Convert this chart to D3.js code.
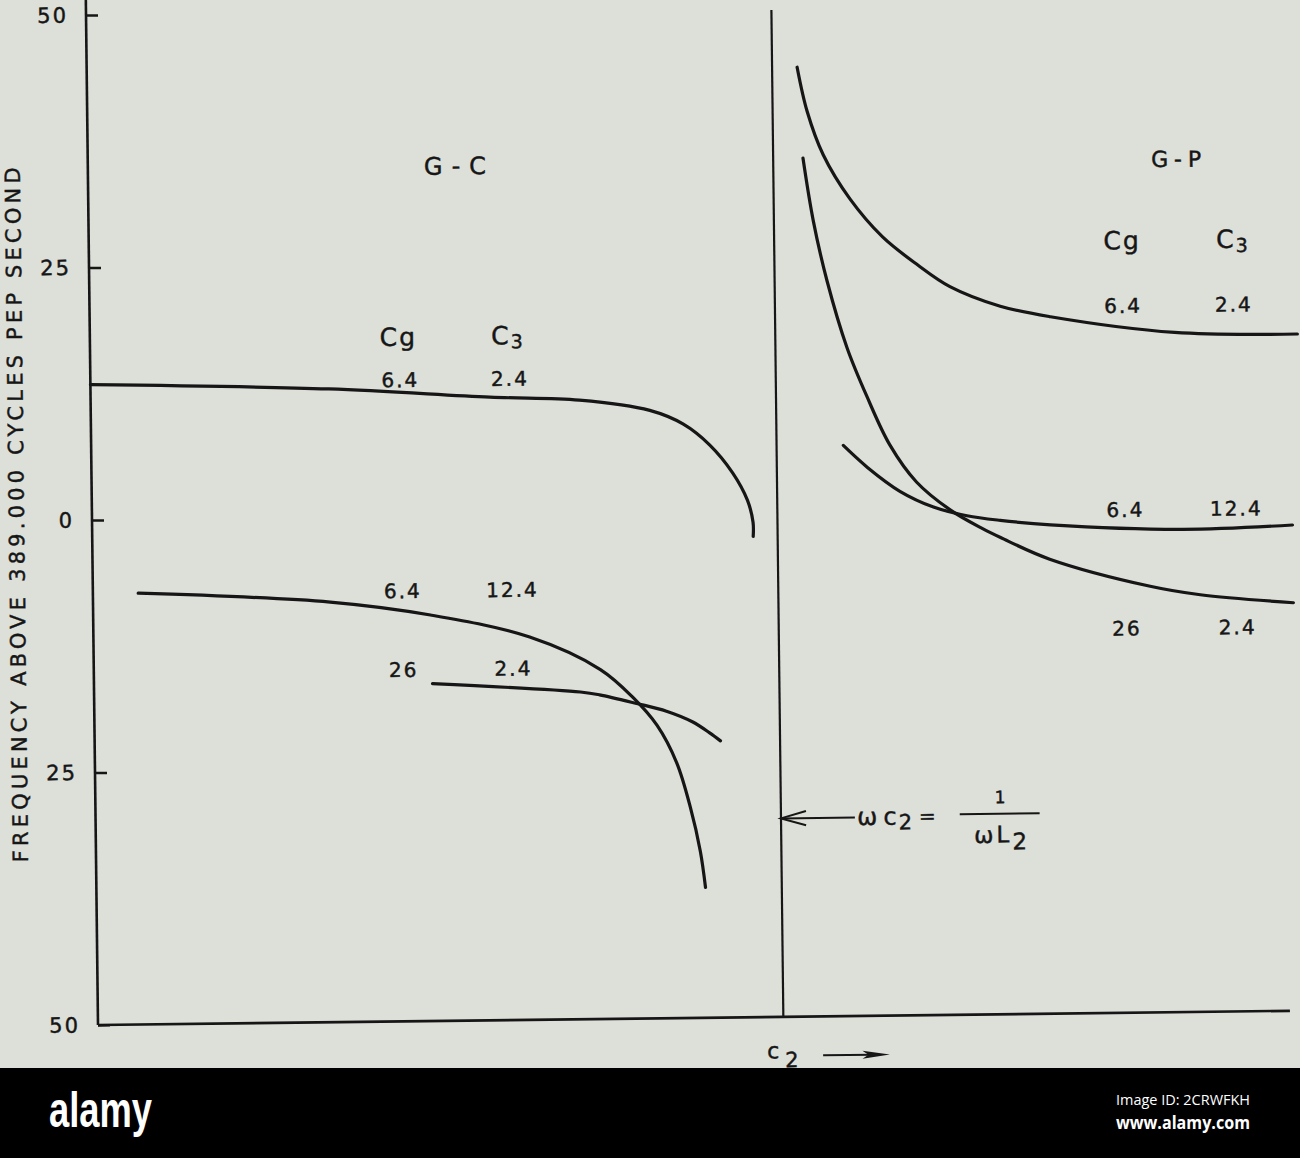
<!DOCTYPE html>
<html><head><meta charset="utf-8">
<script src="https://cdn.jsdelivr.net/npm/d3@7"></script>
<style>html,body{margin:0;padding:0;background:#dddfd9;} svg{display:block}</style>
</head><body>
<svg id="chart" width="1300" height="1158"></svg>
<script>
// ---------- data ----------
const freqTicks = [50, 25, 0, -25, -50];
const yTitle = "FREQUENCY ABOVE 389.000 CYCLES PEP SECOND";
const resonanceC2 = 57.5;            // ωC2 = 1/(ωL2)

// G-C curves: [C2 (arbitrary units), frequency]
const gcCg64C324  = [[0,13.4],[20,12.7],[33.5,11.7],[41,11.3],[46.9,10.2],[49.7,8.8],[51.9,6.7],[53.8,3.9],[55.0,1.2],[55.45,-1.0],[55.45,-2.4]];
const gcCg64C3124 = [[3.8,-7.3],[19.9,-8.4],[28.3,-9.8],[36.6,-12.1],[42.5,-15.4],[45.2,-18.2],[47.2,-21.0],[48.8,-24.7],[49.9,-29.1],[50.7,-33.5],[51.1,-37.1]];
const gcCg26C324  = [[28.4,-16.6],[40.8,-17.6],[42.4,-17.9],[45.5,-18.8],[48.0,-19.6],[50.2,-20.7],[51.6,-21.8],[52.5,-22.6]];
// G-P curves
const gpCg64C324  = [[59.6,44.0],[60.4,39.6],[61.7,35.3],[63.9,30.9],[66.6,27.1],[69.5,24.3],[72.2,22.1],[76.4,20.1],[80.6,19.0],[91.0,17.3],[101.3,17.0]];
const gpCg26C324  = [[60.0,35.0],[60.8,28.8],[61.9,22.8],[63.5,16.2],[65.1,11.4],[67.0,6.5],[69.2,2.8],[72.0,0.0],[74.7,-1.9],[76.2,-2.8],[80.3,-5.0],[88.7,-7.8],[92.9,-8.7],[100.7,-9.6]];
const gpCg64C3124 = [[63.1,6.5],[65.1,4.3],[67.8,1.9],[70.6,0.3],[73.4,-0.6],[76.2,-1.1],[80.4,-1.6],[91.5,-2.2],[100.7,-1.9]];

const gcCgValues = ["6.4", "6.4", "26"];
const gcC3Values = ["2.4", "12.4", "2.4"];
const gpCgValues = ["6.4", "6.4", "26"];
const gpC3Values = ["2.4", "12.4", "2.4"];

// ---------- layout ----------
const svg = d3.select("#chart");
const x = d3.scaleLinear().domain([0, 100]).range([98, 1290]);
const y = d3.scaleLinear().domain([-50, 50]).range([1025, 15]);
const INK = "#161616";
const FONT = "'DejaVu Sans', sans-serif";
const TS = 0.45; // text stroke to mimic heavier print

svg.append("rect").attr("width",1300).attr("height",1158).attr("fill","#dddfd9");

const g = svg.append("g").attr("transform", "rotate(-0.68,98,1025)");

// axes lines
g.append("line").attr("x1", x(0)).attr("x2", x(0)).attr("y1", y(-50)).attr("y2", y(51.5))
  .attr("stroke", INK).attr("stroke-width", 2.6);
g.append("line").attr("x1", x(0)).attr("x2", x(100)).attr("y1", y(-50)).attr("y2", y(-50))
  .attr("stroke", INK).attr("stroke-width", 2.6);
g.append("line").attr("x1", x(resonanceC2)).attr("x2", x(resonanceC2)).attr("y1", y(-50)).attr("y2", y(49.7))
  .attr("stroke", INK).attr("stroke-width", 2.2);

const yAxis = d3.axisLeft(y).tickValues(freqTicks).tickFormat(d => Math.abs(d))
  .tickSize(-12).tickSizeOuter(0).tickPadding(18);
const ya = g.append("g").attr("transform", `translate(${x(0)},0)`).call(yAxis);
ya.select(".domain").remove();
ya.selectAll(".tick line").attr("stroke", INK).attr("stroke-width", 2.5);
ya.selectAll(".tick text").attr("font-family", FONT).attr("font-size", 21)
  .attr("fill", INK).attr("stroke", INK).attr("stroke-width", TS).attr("letter-spacing", 2);

// y title
g.append("text")
  .attr("transform", `translate(${x(-5.7)},${y(0.6)}) rotate(-90)`)
  .attr("text-anchor", "middle").attr("font-family", FONT).attr("font-size", 21)
  .attr("fill", INK).attr("stroke", INK).attr("stroke-width", TS)
  .attr("textLength", 695).attr("lengthAdjust", "spacing")
  .text(yTitle);

// curves
const line = d3.line().x(d => x(d[0])).y(d => y(d[1])).curve(d3.curveCatmullRom.alpha(0.5));
[gcCg64C324, gcCg64C3124, gcCg26C324, gpCg64C324, gpCg26C324, gpCg64C3124].forEach(s => {
  g.append("path").datum(s).attr("d", line).attr("fill", "none")
    .attr("stroke", INK).attr("stroke-width", 3.2).attr("stroke-linecap", "round");
});

// labels
function txt(cx, fy, str, size, anchor, spacing) {
  return g.append("text").attr("x", x(cx)).attr("y", y(fy))
    .attr("text-anchor", anchor || "middle").attr("font-family", FONT)
    .attr("font-size", size).attr("fill", INK).attr("stroke", INK).attr("stroke-width", TS)
    .attr("letter-spacing", spacing || 0).text(str);
}
function header(cx, fy) {
  const t = g.append("text").attr("x", x(cx)).attr("y", y(fy)).attr("text-anchor", "middle")
    .attr("font-family", FONT).attr("font-size", 25).attr("fill", INK)
    .attr("stroke", INK).attr("stroke-width", TS);
  t.append("tspan").text("C");
  t.append("tspan").attr("dx", 2).text("g");
}
function header3(cx, fy) {
  const t = g.append("text").attr("x", x(cx)).attr("y", y(fy)).attr("text-anchor", "middle")
    .attr("font-family", FONT).attr("font-size", 25).attr("fill", INK)
    .attr("stroke", INK).attr("stroke-width", TS);
  t.append("tspan").text("C");
  t.append("tspan").attr("dx", 2).attr("dy", 4).attr("font-size", 19).text("3");
}

// G-C block
txt(30.8, 33.8, "G-C", 24, "middle").attr("textLength", 62).attr("lengthAdjust", "spacing");
header(25.8, 16.9); header3(35.0, 16.9);
const gcRows = [12.8, -8.1, -15.9];
gcRows.forEach((fy, i) => {
  txt(26.0, fy, gcCgValues[i], 20, "middle", 2);
  txt(35.2, fy, gcC3Values[i], 20, "middle", 2);
});
// G-P block
txt(91.3, 33.7, "G-P", 22, "middle").attr("textLength", 50).attr("lengthAdjust", "spacing");
header(86.6, 25.6); header3(95.9, 25.6);
const gpRows = [19.3, -0.9, -12.65];
gpRows.forEach((fy, i) => {
  txt(86.7, fy, gpCgValues[i], 20, "middle", 2);
  txt(96.0, fy, gpC3Values[i], 20, "middle", 2);
});

// resonance annotation
const aF = -30.35;
g.append("line").attr("x1", x(resonanceC2)).attr("x2", x(63.7)).attr("y1", y(aF)).attr("y2", y(aF))
  .attr("stroke", INK).attr("stroke-width", 2);
g.append("path")
  .attr("d", `M${x(resonanceC2 + 2.1)},${y(aF + 0.7)} L${x(resonanceC2)},${y(aF)} L${x(resonanceC2 + 2.1)},${y(aF - 0.7)}`)
  .attr("fill", "none").attr("stroke", INK).attr("stroke-width", 2);
const eq = g.append("text").attr("x", x(63.9)).attr("y", y(-31.1)).attr("font-family", FONT)
  .attr("font-size", 24).attr("fill", INK).attr("stroke", INK).attr("stroke-width", TS);
eq.append("tspan").text("ω");
eq.append("tspan").attr("dx", 6).text("c");
eq.append("tspan").attr("dy", 5).attr("dx", 2).attr("font-size", 21).text("2");
eq.append("tspan").attr("dy", -6).attr("dx", 7).attr("font-size", 20).text("=");
g.append("line").attr("x1", x(72.5)).attr("x2", x(79.2)).attr("y1", y(-30.15)).attr("y2", y(-30.15))
  .attr("stroke", INK).attr("stroke-width", 2);
txt(75.9, -29.1, "1", 17, "middle");
const den = g.append("text").attr("x", x(75.9)).attr("y", y(-33.0)).attr("text-anchor", "middle")
  .attr("font-family", FONT).attr("font-size", 23).attr("fill", INK)
  .attr("stroke", INK).attr("stroke-width", TS);
den.append("tspan").text("ω");
den.append("tspan").attr("dx", 3).text("L");
den.append("tspan").attr("dy", 7).attr("dx", 3).attr("font-size", 23).text("2");

// x label: c2 →
const xl = g.append("text").attr("x", x(56.1)).attr("y", y(-54.1)).attr("font-family", FONT)
  .attr("font-size", 22).attr("fill", INK).attr("stroke", INK).attr("stroke-width", TS);
xl.append("tspan").text("c");
xl.append("tspan").attr("dy", 9).attr("dx", 6).attr("font-size", 21).text("2");
g.append("line").attr("x1", x(60.8)).attr("x2", x(65.0)).attr("y1", y(-53.85)).attr("y2", y(-53.85))
  .attr("stroke", INK).attr("stroke-width", 2);
g.append("path")
  .attr("d", `M${x(66.4)},${y(-53.85)} L${x(64.1)},${y(-53.45)} L${x(64.6)},${y(-53.85)} L${x(64.1)},${y(-54.25)} Z`)
  .attr("fill", INK);

// watermark band
svg.append("rect").attr("x", 0).attr("y", 1068).attr("width", 1300).attr("height", 90).attr("fill", "#000");
svg.append("text").attr("x", 49).attr("y", 1127).attr("font-family", "'Liberation Sans', Arial, sans-serif")
  .attr("font-weight", "bold").attr("font-size", 50).attr("fill", "#fff")
  .attr("textLength", 103).attr("lengthAdjust", "spacingAndGlyphs").text("alamy");
svg.append("text").attr("x", 1116).attr("y", 1105).attr("font-family", "'Open Sans', sans-serif")
  .attr("font-size", 15).attr("fill", "#fff").attr("textLength", 134).attr("lengthAdjust", "spacingAndGlyphs")
  .text("Image ID: 2CRWFKH");
svg.append("text").attr("x", 1116).attr("y", 1129).attr("font-family", "'Open Sans', sans-serif")
  .attr("font-weight", "bold").attr("font-size", 17).attr("fill", "#fff").attr("textLength", 134)
  .attr("lengthAdjust", "spacingAndGlyphs").text("www.alamy.com");
</script>
</body></html>
